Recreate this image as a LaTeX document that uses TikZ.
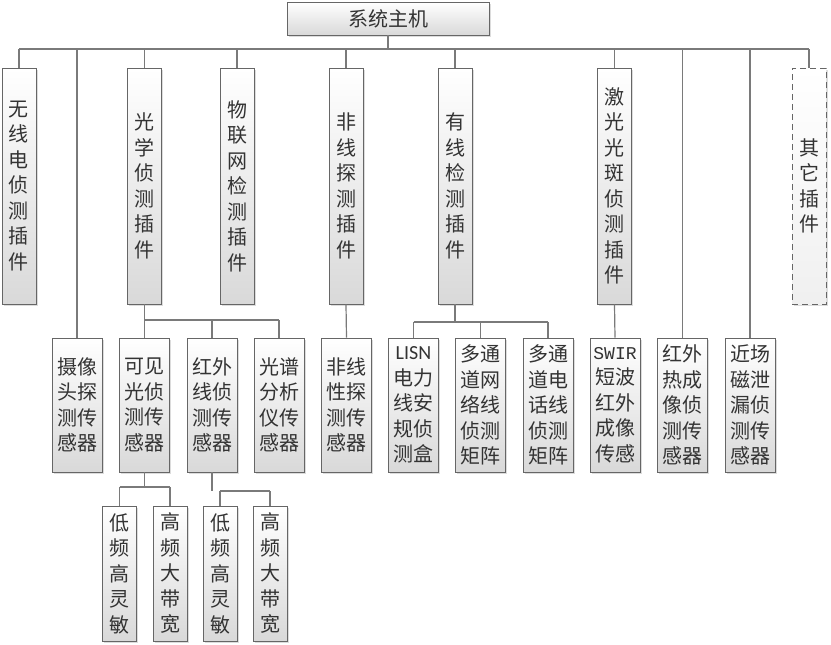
\documentclass[tikz,border=0pt]{standalone}
\usepackage{fontspec}
\newfontfamily\cjk{Noto Sans CJK SC}
\newfontfamily\lisnfont{Carlito}
\newfontfamily\swirfont{Liberation Mono}
\usetikzlibrary{shadows}
\begin{document}
\begin{tikzpicture}[x=1pt,y=-1pt,
  box/.style={draw=black!60, line width=0.8pt, top color=white, bottom color=black!15,
    drop shadow={shadow xshift=1.5pt, shadow yshift=-1.5pt, fill=black!30, opacity=0.45},
    inner sep=0pt, align=center, font=\cjk\fontsize{20}{25.5}\selectfont, text=black!80},
  lone/.style={box, minimum width=34pt, minimum height=236pt},
  ltwo/.style={box, minimum width=50pt, minimum height=134pt},
  lthree/.style={box, minimum width=34pt, minimum height=135pt},
  conn/.style={draw=black!52, line width=1.2pt}]
\useasboundingbox (0,0) rectangle (831,645);

% top
\node[box, minimum width=202pt, minimum height=33pt] (host) at (388,18.5) {系统主机};

% level 1
\node[lone] (wx) at (19,186) {无\\线\\电\\侦\\测\\插\\件};
\node[lone] (gx) at (144.5,186) {光\\学\\侦\\测\\插\\件};
\node[lone] (wl) at (237,186) {物\\联\\网\\检\\测\\插\\件};
\node[lone] (fx) at (346,186) {非\\线\\探\\测\\插\\件};
\node[lone] (yx) at (455,186) {有\\线\\检\\测\\插\\件};
\node[lone] (jg) at (614.5,186) {激\\光\\光\\斑\\侦\\测\\插\\件};
\node[lone, dash pattern=on 6pt off 4pt, top color=white, bottom color=black!6] (qt) at (809,186) {其\\它\\插\\件};

% level 2
\node[ltwo] (sx) at (77,405) {摄像\\头探\\测传\\感器};
\node[ltwo] (kj) at (144.5,405) {可见\\光侦\\测传\\感器};
\node[ltwo] (hw) at (212,405) {红外\\线侦\\测传\\感器};
\node[ltwo] (gp) at (279,405) {光谱\\分析\\仪传\\感器};
\node[ltwo] (fxx) at (346.5,405) {非线\\性探\\测传\\感器};
\node[ltwo] (lisn) at (413.5,405) {{\lisnfont LISN}\\电力\\线安\\规侦\\测盒};
\node[ltwo] (dta) at (480.5,405) {多通\\道网\\络线\\侦测\\矩阵};
\node[ltwo] (dtb) at (548,405) {多通\\道电\\话线\\侦测\\矩阵};
\node[ltwo] (swir) at (615,405) {{\swirfont\fontsize{18}{25.5}\selectfont SWIR}\\短波\\红外\\成像\\传感};
\node[ltwo] (hr) at (682.5,405) {红外\\热成\\像侦\\测传\\感器};
\node[ltwo] (jc) at (750,405) {近场\\磁泄\\漏侦\\测传\\感器};

% level 3
\node[lthree] (da) at (119.5,573.5) {低\\频\\高\\灵\\敏};
\node[lthree] (ga) at (170,573.5) {高\\频\\大\\带\\宽};
\node[lthree] (db) at (220,573.5) {低\\频\\高\\灵\\敏};
\node[lthree] (gb) at (270,573.5) {高\\频\\大\\带\\宽};

% main bus
\coordinate (bl) at (19,49);
\coordinate (br) at (809,49);
\draw[conn] (bl) -- (br);
\draw[conn] (host.south) -- (host.south |- bl);
\foreach \n in {wx,gx,wl,fx,yx,jg,qt,sx,hr,jc}
  \draw[conn] (\n.north) -- (\n.north |- bl);
\draw[conn] (fx.south) -- (fxx.north);
\draw[conn] (jg.south) -- (swir.north);

% optical sub-bus
\coordinate (ob) at (0,320);
\draw[conn] (gx.south) -- (gx.south |- ob);
\draw[conn] (kj.north |- ob) -- (gp.north |- ob);
\foreach \n in {kj,hw,gp}
  \draw[conn] (\n.north) -- (\n.north |- ob);

% wired sub-bus
\coordinate (wb) at (0,322);
\draw[conn] (yx.south) -- (yx.south |- wb);
\draw[conn] (lisn.north |- wb) -- (dtb.north |- wb);
\foreach \n in {lisn,dta,dtb}
  \draw[conn] (\n.north) -- (\n.north |- wb);

% visible sub-bus
\coordinate (vb) at (0,487);
\draw[conn] (kj.south) -- (kj.south |- vb);
\draw[conn] (da.north |- vb) -- (ga.north |- vb);
\foreach \n in {da,ga}
  \draw[conn] (\n.north) -- (\n.north |- vb);

% infrared sub-bus
\coordinate (ib) at (0,491);
\draw[conn] (hw.south) -- (hw.south |- ib);
\draw[conn] (db.north |- ib) -- (gb.north |- ib);
\foreach \n in {db,gb}
  \draw[conn] (\n.north) -- (\n.north |- ib);
\end{tikzpicture}
\end{document}
